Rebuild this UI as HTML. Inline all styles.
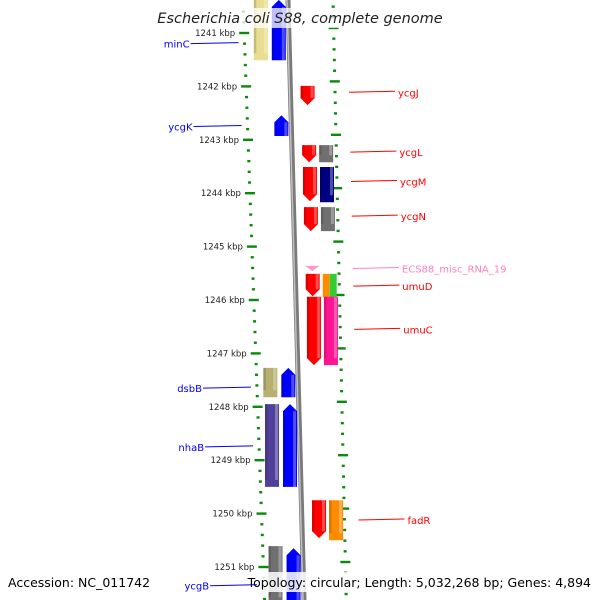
<!DOCTYPE html>
<html><head><meta charset="utf-8"><style>
html,body{margin:0;padding:0;background:#fff}
svg{display:block;font-family:"DejaVu Sans","Liberation Sans",sans-serif}
</style></head><body>
<svg id="map" width="600" height="600" viewBox="0 0 600 600" xmlns="http://www.w3.org/2000/svg">
<rect width="600" height="600" fill="#fff"/>
<g id="ticks"></g>
<path d="M288,0 Q295,300 304,600" stroke="#7a7a7a" stroke-width="5" fill="none"/>
<path d="M287,0 Q294,300 303,600" stroke="#c0c0c0" stroke-width="1.5" fill="none"/>
<g id="feats"></g>
<g id="labels"></g>
<rect x="165" y="8" width="272" height="20" fill="#fff" opacity="0.75"/>
<text x="300" y="23" text-anchor="middle" font-size="14.5" font-style="italic" fill="#222">Escherichia coli S88, complete genome</text>
<rect x="0" y="572" width="150" height="20" fill="#fff" opacity="0.85"/>
<rect x="257" y="572" width="336" height="20" fill="#fff" opacity="0.85"/>
<text x="8" y="587" font-size="12.5" fill="#000">Accession: NC_011742</text>
<text x="591" y="587" text-anchor="end" font-size="12.5" fill="#000">Topology: circular; Length: 5,032,268 bp; Genes: 4,894</text>
</svg>
<script>
const tickKbp=[1241,1242,1243,1244,1245,1246,1247,1248,1249,1250,1251];
const tickLabels=["1241 kbp","1242 kbp","1243 kbp","1244 kbp","1245 kbp","1246 kbp","1247 kbp","1248 kbp","1249 kbp","1250 kbp","1251 kbp"];
// features: start kbp, end kbp
const featStart=[1240.38,1240.38,1241.99,1242.54,1243.10,1243.10,1243.51,1243.51,1244.26,1244.26,1245.36,1245.51,1245.51,1245.51,1245.94,1245.94,1247.27,1247.27,1247.95,1247.95,1249.75,1249.75,1250.61,1250.65];
const featEnd  =[1241.51,1241.51,1242.35,1242.93,1243.42,1243.42,1244.15,1244.17,1244.71,1244.71,1245.46,1245.93,1245.95,1245.95,1247.22,1247.22,1247.82,1247.82,1249.50,1249.50,1250.46,1250.50,1251.70,1251.70];
const featTrack=[-2,-1,1,-1,1,2,1,2,1,2,1,1,2.2,2.6,1,2,-2,-1,-2,-1,1,2,-2,-1];
const featDir  =[0,1,-1,1,-1,0,-1,0,-1,0,-1,-1,0,0,-1,0,0,1,0,1,-1,0,0,1];
const featColor=["#e8dd90","#0000ff","#ff0000","#0000ff","#ff0000","#707070","#ff0000","#000080","#ff0000","#707070","#ff99cc","#ff0000","#ff8c00","#33cc33","#ff0000","#ff1493","#b8b070","#0000ff","#50409a","#0000ff","#ff0000","#ff8c00","#707070","#0000ff"];
const labelNames=["minC","ycgK","dsbB","nhaB","ycgB","ycgJ","ycgL","ycgM","ycgN","ECS88_misc_RNA_19","umuD","umuC","fadR"];
const labelKbp=[1241.2,1242.75,1247.65,1248.75,1251.35,1242.11,1243.23,1243.78,1244.43,1245.41,1245.74,1246.55,1250.12];
const labelSide=[-1,-1,-1,-1,-1,1,1,1,1,1,1,1,1];
const labelColor=["#0000ff","#0000ff","#0000ff","#0000ff","#0000ff","#ff0000","#ff0000","#ff0000","#ff0000","#ff80c0","#ff0000","#ff0000","#ff0000"];

const NS="http://www.w3.org/2000/svg";
function yOf(k){return 33+(k-1241)*53.4;}
function leftX(y){return 243+y*0.036;}
function rightX(y){return 333+y*0.022;}
function centerX(y){return 288+y*0.027;}
function mk(tag,attrs,parent){const e=document.createElementNS(NS,tag);for(const k in attrs)e.setAttribute(k,attrs[k]);parent.appendChild(e);return e;}
const gT=document.getElementById('ticks'),gF=document.getElementById('feats'),gL=document.getElementById('labels');
for(let k=1240.6;k<=1251.7;k+=0.2){
  const kk=Math.round(k*10)/10;const y=yOf(kk);if(y<-5||y>605)continue;
  const major=Math.abs(kk-Math.round(kk))<0.01;
  const xl=leftX(y);
  const t=mk('rect',{x:major?xl-5:xl-1.5,y:y-1.2,width:major?10:3,height:2.4,fill:'#0a8a0a'},gT);
  
  
  const yr=y-5;const xr=rightX(yr);
  const r=mk('rect',{x:major?xr-5:xr-1.5,y:yr-1.2,width:major?10:3,height:2.4,fill:'#0a8a0a'},gT);
  
  
}
tickKbp.forEach((k,i)=>{const y=yOf(k);
  const t=mk('text',{x:leftX(y)-9,y:y+3,'text-anchor':'end','font-size':'8.5',fill:'#222'},gT);t.textContent=tickLabels[i];
  
  
});
featStart.forEach((s,i)=>{
  let y0=yOf(s),y1=yOf(featEnd[i]);const tr=featTrack[i];const ym=(y0+y1)/2;
  const c=centerX(ym);let x,w=14;
  if(tr<0){x=c-(tr===-2?35:17);}
  else if(tr===1){x=c+10;}
  else if(tr===2){x=c+27;}
  else if(tr===2.2){x=c+27;w=7;}
  else {x=c+34;w=7;}
  const d=featDir[i];let pts;const a=7;
  if(featColor[i]==="#ff99cc"){pts=`${x},${y0} ${x+w},${y0} ${x+w/2},${y1}`;}
  else if(d===-1){pts=`${x},${y0} ${x+w},${y0} ${x+w},${y1-a} ${x+w/2},${y1} ${x},${y1-a}`;}
  else if(d===1){pts=`${x},${y0+a} ${x+w/2},${y0} ${x+w},${y0+a} ${x+w},${y1} ${x},${y1}`;}
  else pts=`${x},${y0} ${x+w},${y0} ${x+w},${y1} ${x},${y1}`;
  const p=mk('polygon',{points:pts,fill:featColor[i]},gF);
  
  
  if(w>8&&featColor[i]!=="#ff99cc"){const top=y0+(d===1?a:0),h=Math.max(0,y1-y0-a);
    mk('rect',{x:x+w-4,y:top,width:3,height:h,fill:'#fff',opacity:0.3},gF);
    mk('rect',{x:x,y:top,width:2.5,height:h,fill:'#000',opacity:0.15},gF);}
});
labelNames.forEach((n,i)=>{
  const y=yOf(labelKbp[i]);const side=labelSide[i];
  let x1,x2,tx,anchor;
  if(side<0){x2=leftX(y)-6;x1=x2-48;tx=x1-1;anchor='end';}
  else{x1=rightX(y)+14;x2=x1+46;tx=x2+3;anchor='start';}
  const l=mk('line',{x1:x1,y1:y,x2:x2,y2:y-1,stroke:labelColor[i],'stroke-width':1},gL);
  
  
  const t=mk('text',{x:tx,y:y+4,'text-anchor':anchor,'font-size':'10',fill:labelColor[i]},gL);t.textContent=n;
  
  
});
</script>
</body></html>
